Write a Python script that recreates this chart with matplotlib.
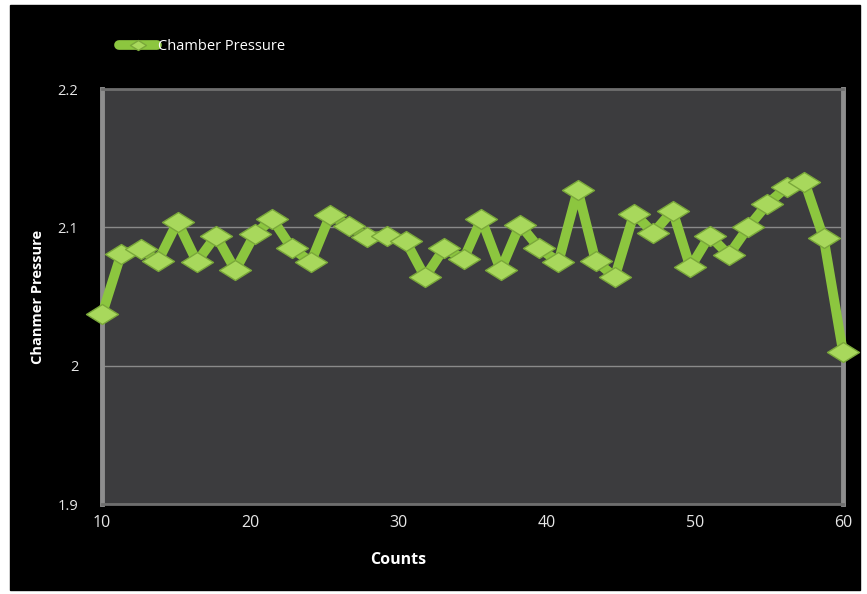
import matplotlib
matplotlib.use("Agg")
import matplotlib.pyplot as plt
from matplotlib.patches import Rectangle
from matplotlib.path import Path

# data (40 samples between 10 and 60 counts)
counts = [10.0, 11.3, 12.6, 13.8, 15.1, 16.4, 17.7, 19.0, 20.3, 21.5,
          22.8, 24.1, 25.4, 26.7, 27.9, 29.2, 30.5, 31.8, 33.1, 34.4,
          35.6, 36.9, 38.2, 39.5, 40.8, 42.1, 43.3, 44.6, 45.9, 47.2,
          48.5, 49.7, 51.0, 52.3, 53.6, 54.9, 56.2, 57.4, 58.7, 60.0]
pressure = [2.037, 2.081, 2.084, 2.076, 2.104, 2.075, 2.094, 2.069, 2.095, 2.106,
            2.085, 2.075, 2.109, 2.101, 2.093, 2.094, 2.090, 2.064, 2.085, 2.077,
            2.106, 2.069, 2.102, 2.085, 2.075, 2.127, 2.076, 2.064, 2.110, 2.096,
            2.112, 2.071, 2.094, 2.080, 2.100, 2.117, 2.129, 2.133, 2.092, 2.010]
x_ticks = [10, 20, 30, 40, 50, 60]
y_ticks = [1.9, 2.0, 2.1, 2.2]
y_ticklabels = ["1.9", "2", "2.1", "2.2"]

plt.rcParams['font.family'] = ['Open Sans', 'DejaVu Sans']

fig = plt.figure(figsize=(8.67, 5.94), dpi=100)
fig.patch.set_facecolor("white")
# black slide background, drawn behind the axes
fig.patches.append(Rectangle((10 / 867, 1 - 590 / 594), 850 / 867, 585 / 594,
                             transform=fig.transFigure, color="black", zorder=-5))

ax = fig.add_axes([102 / 867, 1 - 504 / 594, 741 / 867, 415 / 594])
ax.set_facecolor("#3c3c3e")

# wide flat diamond marker
diamond = Path([(-1.6, 0), (0, 1), (1.6, 0), (0, -1), (-1.6, 0)],
               [Path.MOVETO, Path.LINETO, Path.LINETO, Path.LINETO, Path.CLOSEPOLY])

ax.plot(counts, pressure, color="#8cc63f", lw=7, marker=diamond, ms=23,
        mfc="#a8d85c", mec="#7aa83a", mew=1, label="Chamber Pressure",
        solid_joinstyle="round", solid_capstyle="round", clip_on=False, zorder=3)

ax.set_xlim(10, 60)
ax.set_ylim(1.9, 2.2)
ax.set_xticks(x_ticks)
ax.set_yticks(y_ticks)
ax.set_yticklabels(y_ticklabels)
ax.grid(axis="y", color="#8a8a8a", lw=1)
ax.set_axisbelow(True)

ax.tick_params(axis="x", length=0, pad=8, labelsize=11.5, colors="#e6e6e6")
ax.tick_params(axis="y", length=0, pad=17, labelsize=10.5, colors="#e6e6e6")

for side in ["left", "right"]:
    ax.spines[side].set_color("#8e8e8e")
    ax.spines[side].set_linewidth(3.5)
for side in ["top", "bottom"]:
    ax.spines[side].set_color("#6e6e6e")
    ax.spines[side].set_linewidth(2)

ax.set_xlabel("Counts", color="white", fontsize=11.5, fontweight="bold")
ax.xaxis.set_label_coords(0.40, -0.115)
ax.set_ylabel("Chanmer Pressure", color="white", fontsize=10.5, fontweight="bold", labelpad=9)

leg = fig.legend(loc="center left", bbox_to_anchor=(106 / 867, 1 - 47 / 594),
                 frameon=False, fontsize=10.5, handlelength=2.6, handletextpad=0.1,
                 markerscale=0.5)
for t in leg.get_texts():
    t.set_color("white")

fig.savefig("out.png", dpi=100)
